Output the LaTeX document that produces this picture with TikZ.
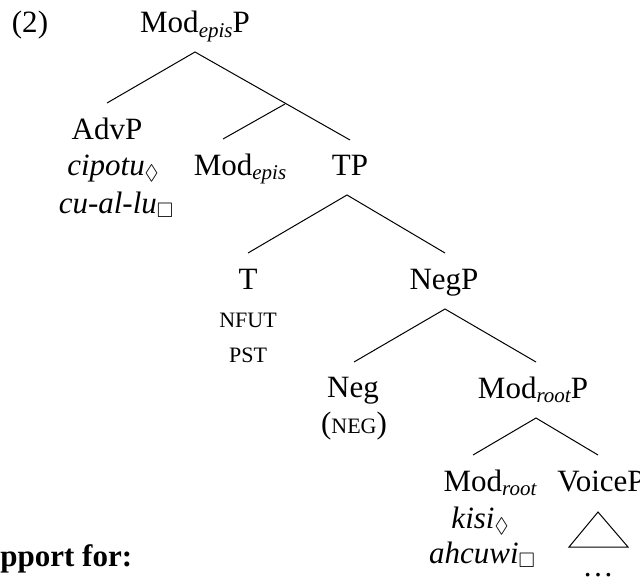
\documentclass[tikz,border=0pt]{standalone}
\usepackage{amssymb}
\usepackage{fontspec}
\setmainfont{Liberation Serif}
\newcommand{\fsc}[1]{{\fontsize{11}{13}\selectfont #1}}
\newcommand{\sbt}[1]{\raisebox{-0.3ex}{\fontsize{10.5}{12}\selectfont\itshape #1}}
\newcommand{\sbs}[1]{\raisebox{-0.35ex}{\fontsize{10.5}{12}\selectfont$#1$}}
\tikzset{
  lbl/.style={inner sep=0pt, anchor=base, font=\fontsize{15.5}{18}\selectfont},
  branch/.style={line width=0.5pt, black}
}
\begin{document}
\begin{tikzpicture}[x=0.5pt, y=-0.5pt]
\useasboundingbox (0,0) rectangle (640,577);
% labels
\node[lbl] (ex) at (30,33) {(2)};
\node[lbl] (modepisP) at (195,33) {Mod\sbt{epis}P};
\node[lbl] (advP) at (107,140) {AdvP};
\node[lbl] (cipotu) at (113,175) {\textit{cipotu}\sbs{\Diamond}};
\node[lbl] (cuallu) at (116,213) {\textit{cu-al-lu}\sbs{\Box}};
\node[lbl] (modepis) at (240,175) {Mod\sbt{epis}};
\node[lbl] (TP) at (350,175) {TP};
\node[lbl] (T) at (248,289) {T};
\node[lbl] (nfut) at (248,327) {\fsc{NFUT}};
\node[lbl] (pst) at (248,362) {\fsc{PST}};
\node[lbl] (NegP) at (444,289) {NegP};
\node[lbl] (Neg) at (353,397) {Neg};
\node[lbl] (neg) at (354,433) {(\fsc{NEG})};
\node[lbl] (modrootP) at (533,398) {Mod\sbt{root}P};
\node[lbl] (modroot) at (490,491) {Mod\sbt{root}};
\node[lbl, anchor=base west] (voiceP) at (557,491) {VoiceP};
\node[lbl] (kisi) at (480,528) {\textit{kisi}\sbs{\Diamond}};
\node[lbl] (ahcuwi) at (482,563) {\textit{ahcuwi}\sbs{\Box}};
\node[lbl] (dots) at (598,576) {\dots};
\node[lbl, anchor=base west, font=\fontsize{15.5}{18}\selectfont\bfseries] (support) at (0,566) {pport for:};
% branch points
\coordinate (a0) at (195,52);
\coordinate (a0l) at (107,103);
\coordinate (a0r) at (350,140);
\coordinate (a1) at (285,104);
\coordinate (a1l) at (223,139);
\coordinate (a2) at (347,195);
\coordinate (a2l) at (248,253);
\coordinate (a2r) at (445,253);
\coordinate (a3) at (445,309);
\coordinate (a3l) at (354,362);
\coordinate (a3r) at (536,362);
\coordinate (a4) at (536,418);
\coordinate (a4l) at (473,455);
\coordinate (a4r) at (598,455);
\coordinate (t1) at (598,512);
\coordinate (t2) at (569,547);
\coordinate (t3) at (628,547);
% branches
\draw[branch] (a0l) -- (a0) -- (a0r);
\draw[branch] (a1) -- (a1l);
\draw[branch] (a2l) -- (a2) -- (a2r);
\draw[branch] (a3l) -- (a3) -- (a3r);
\draw[branch] (a4l) -- (a4) -- (a4r);
\draw[branch] (t1) -- (t2) -- (t3) -- cycle;
\end{tikzpicture}
\end{document}
